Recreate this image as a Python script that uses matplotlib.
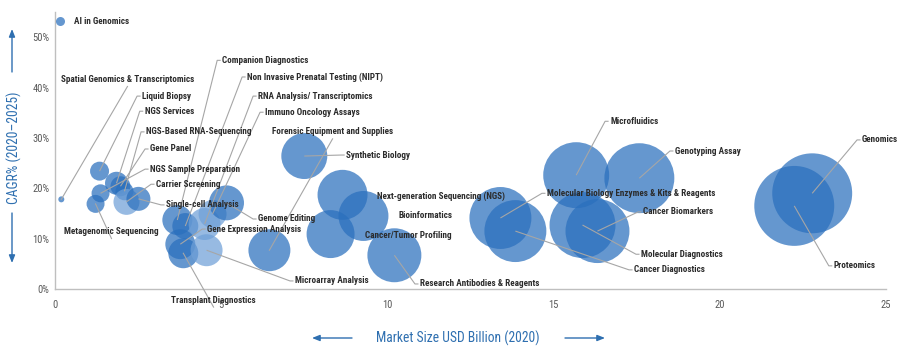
import matplotlib
matplotlib.use("Agg")
import matplotlib.pyplot as plt
from matplotlib import font_manager
from matplotlib.lines import Line2D
from matplotlib.patches import FancyArrowPatch

# ---------------- data ----------------
segments = [
    "Spatial Genomics & Transcriptomics", "Liquid Biopsy", "NGS Services",
    "NGS-Based RNA-Sequencing", "Gene Panel", "NGS Sample Preparation",
    "Carrier Screening", "Single-cell Analysis", "Metagenomic Sequencing",
    "Companion Diagnostics", "Non Invasive Prenatal Testing (NIPT)",
    "RNA Analysis/ Transcriptomics", "Immuno Oncology Assays", "Genome Editing",
    "Gene Expression Analysis", "Transplant Diagnostics", "Microarray Analysis",
    "Forensic Equipment and Supplies", "Synthetic Biology",
    "Next-generation Sequencing (NGS)", "Bioinformatics", "Cancer/Tumor Profiling",
    "Research Antibodies & Reagents", "Molecular Biology Enzymes & Kits & Reagents",
    "Cancer Diagnostics", "Microfluidics", "Genotyping Assay",
    "Molecular Diagnostics", "Cancer Biomarkers", "Genomics", "Proteomics",
]
market_size_2020 = [0.19, 1.34, 1.85, 2.09, 1.97, 1.37, 2.15, 2.51, 1.22,
                    3.68, 3.92, 4.50, 4.74, 5.16, 3.77, 3.86, 4.56, 6.45, 7.50,
                    8.65, 9.28, 8.29, 10.21, 13.40, 13.85, 15.68, 17.58,
                    15.87, 16.32, 22.78, 22.24]
cagr_pct = [17.8, 23.4, 21.0, 19.4, 20.4, 19.0, 17.3, 17.9, 16.9,
            13.7, 12.5, 12.9, 14.9, 17.1, 8.9, 7.1, 7.7, 7.7, 26.4,
            18.7, 14.5, 10.9, 6.7, 14.1, 11.5, 22.6, 22.0,
            12.7, 11.5, 19.0, 16.5]
bubble_value = [0.09, 0.90, 1.32, 0.81, 1.00, 0.81, 1.69, 1.44, 0.81,
                2.25, 1.69, 2.56, 1.96, 3.06, 2.25, 2.25, 2.56, 4.41, 5.29,
                6.25, 6.25, 5.76, 7.29, 9.61, 9.61, 10.89, 12.25,
                10.89, 10.24, 16.0, 16.0]

y_ticks = [0, 10, 20, 30, 40, 50]
x_ticks = [0, 5, 10, 15, 20, 25]
series_name = "AI in Genomics"
x_title = "Market Size USD Billion (2020)"
y_title = "CAGR% (2020\u20132025)"

# ---------------- label layout (annotation positions) ----------------
# style: 'tick' = leader to left of left-aligned text, 'top' = centred text with line from below,
# 'none' = no leader
label_pos = {
    "Spatial Genomics & Transcriptomics": (2.18, 41.6, "top"),
    "Liquid Biopsy": (2.62, 38.3, "tick"),
    "NGS Services": (2.70, 35.3, "tick"),
    "NGS-Based RNA-Sequencing": (2.74, 31.2, "tick"),
    "Gene Panel": (2.86, 27.8, "tick"),
    "NGS Sample Preparation": (2.86, 23.8, "tick"),
    "Carrier Screening": (3.04, 20.8, "tick"),
    "Single-cell Analysis": (3.34, 16.7, "tick"),
    "Metagenomic Sequencing": (1.70, 11.4, "top"),
    "Companion Diagnostics": (5.03, 45.4, "tick"),
    "Non Invasive Prenatal Testing (NIPT)": (5.78, 42.1, "tick"),
    "RNA Analysis/ Transcriptomics": (6.11, 38.3, "tick"),
    "Immuno Oncology Assays": (6.32, 35.1, "tick"),
    "Genome Editing": (6.11, 13.9, "tick"),
    "Gene Expression Analysis": (4.58, 11.9, "tick"),
    "Transplant Diagnostics": (4.77, -2.2, "top"),
    "Microarray Analysis": (7.22, 1.6, "tick"),
    "Forensic Equipment and Supplies": (8.35, 31.2, "top"),
    "Synthetic Biology": (8.76, 26.6, "tick"),
    "Next-generation Sequencing (NGS)": (9.69, 18.5, "none"),
    "Bioinformatics": (10.32, 14.5, "none"),
    "Cancer/Tumor Profiling": (9.33, 10.7, "none"),
    "Research Antibodies & Reagents": (10.98, 1.0, "tick"),
    "Molecular Biology Enzymes & Kits & Reagents": (14.80, 19.0, "tick"),
    "Cancer Diagnostics": (17.42, 3.8, "tick"),
    "Microfluidics": (16.70, 33.3, "tick"),
    "Genotyping Assay": (18.65, 27.4, "tick"),
    "Molecular Diagnostics": (17.63, 6.9, "tick"),
    "Cancer Biomarkers": (17.69, 15.3, "tick"),
    "Genomics": (24.28, 29.6, "tick"),
    "Proteomics": (23.43, 4.6, "tick"),
}
light_segments = {"Carrier Screening", "RNA Analysis/ Transcriptomics",
                  "Immuno Oncology Assays", "Microarray Analysis"}

# ---------------- fonts ----------------
avail = {f.name for f in font_manager.fontManager.ttflist}
narrow = next((f for f in ["Liberation Sans Narrow", "Roboto Condensed", "Open Sans Condensed"]
               if f in avail), None)
if narrow:
    FONT = [narrow, "DejaVu Sans"]
    lab_size, tick_size, title_size = 6.6, 7.6, 9.8
else:
    FONT = ["Roboto", "DejaVu Sans"]
    lab_size, tick_size, title_size = 5.6, 6.8, 8.8

plt.rcParams["font.family"] = FONT

BLUE = "#2a6fbd"
LIGHT = "#6fa0d8"
TXT = "#2b2b2b"
LINE = "#a6a6a6"
AXBLUE = "#2e6fb0"

fig = plt.figure(figsize=(9.2, 3.59), dpi=100)
W, H = 920, 359
ax = fig.add_axes([55 / W, 70 / H, (886 - 55) / W, (289 - 12) / H])
ax.set_xlim(0, 25)
ax.set_ylim(0, 55)

colors = [LIGHT if s in light_segments else BLUE for s in segments]
sizes = [v * 207 for v in bubble_value]
ax.scatter(market_size_2020, cagr_pct, s=sizes, c=colors, alpha=0.72,
           edgecolors="none", zorder=2)

# leaders + labels
px_x = 25 / (886 - 55)   # data units per pixel
px_y = 55 / (289 - 12)
for name, x, y in zip(segments, market_size_2020, cagr_pct):
    lx, ly, style = label_pos[name]
    if style == "tick":
        ax.plot([x, lx - 5 * px_x, lx - 1.5 * px_x], [y, ly, ly], color=LINE,
                lw=0.8, zorder=3, clip_on=False, solid_capstyle="butt")
        ax.text(lx, ly, name, ha="left", va="center", fontsize=lab_size,
                color=TXT, fontweight="bold", zorder=4, clip_on=False)
    elif style == "top":
        ax.plot([x, lx], [y, ly - 7 * px_y], color=LINE, lw=0.8, zorder=3,
                clip_on=False)
        ax.text(lx, ly, name, ha="center", va="center", fontsize=lab_size,
                color=TXT, fontweight="bold", zorder=4, clip_on=False)
    else:
        ax.text(lx, ly, name, ha="left", va="center", fontsize=lab_size,
                color=TXT, fontweight="bold", zorder=4, clip_on=False)

# axes styling
for side in ["top", "right"]:
    ax.spines[side].set_visible(False)
for side in ["left", "bottom"]:
    ax.spines[side].set_color("#bfbfbf")
    ax.spines[side].set_linewidth(1.0)
ax.set_xticks(x_ticks)
ax.set_xticklabels([str(t) for t in x_ticks])
ax.set_yticks(y_ticks)
ax.set_yticklabels([f"{t}%" for t in y_ticks])
ax.tick_params(axis="both", length=0, labelsize=tick_size, colors="#595959")
ax.tick_params(axis="x", pad=8)
ax.tick_params(axis="y", pad=4)

# legend
proxy = Line2D([], [], marker="o", linestyle="none", markersize=6.5,
               markerfacecolor=BLUE, markeredgecolor="none", alpha=0.72)
leg = ax.legend(handles=[proxy], labels=[series_name], loc="center left",
                bbox_to_anchor=(-0.004, 0.964), frameon=False,
                handlelength=1.0, handletextpad=1.0, borderaxespad=0,
                prop={"size": lab_size, "weight": "bold", "family": FONT})
for t in leg.get_texts():
    t.set_color(TXT)

# axis titles with arrows (figure coordinates)
fig.text(458 / W, 1 - 338 / H, x_title, ha="center", va="center",
         fontsize=title_size, color=AXBLUE)
fig.text(14 / W, 1 - 148 / H, y_title, ha="center", va="center",
         rotation=90, fontsize=title_size, color=AXBLUE)
arrow_kw = dict(arrowstyle="-|>,head_length=0.5,head_width=0.2", color=AXBLUE,
                lw=1.0, mutation_scale=9, shrinkA=0, shrinkB=0)
for (x0, y0), (x1, y1) in [((352, 338), (312, 338)), ((565, 338), (605, 338)),
                           ((12, 72), (12, 29)), ((12, 213), (12, 263))]:
    fig.add_artist(FancyArrowPatch((x0 / W, 1 - y0 / H), (x1 / W, 1 - y1 / H),
                                   transform=fig.transFigure, **arrow_kw))

fig.savefig("out.png", dpi=100)
